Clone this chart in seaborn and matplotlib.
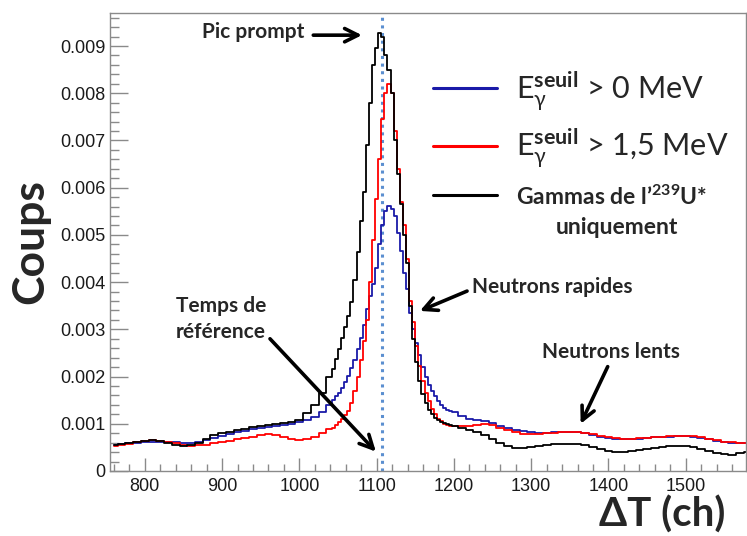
import numpy as np
import seaborn as sns
import matplotlib
matplotlib.use('Agg')
import matplotlib.pyplot as plt
from matplotlib.ticker import MultipleLocator, FuncFormatter

# bin centres (ch): coarse before/after the prompt peak, fine around it
channels = np.concatenate([np.arange(760, 1031, 10),
                           np.arange(1040, 1197, 4),
                           np.arange(1200, 1581, 10)])

# E_gamma seuil > 0 MeV (blue)
coups_0mev = [0.00055, 0.00057, 0.00059, 0.00060, 0.00061, 0.00062, 0.00062, 0.00062, 0.00061, 0.00060,
              0.00060, 0.00062, 0.00066, 0.00070, 0.00074, 0.00078, 0.00082, 0.00085, 0.00088, 0.00091,
              0.00094, 0.00096, 0.00098, 0.00100, 0.00103, 0.00108, 0.00114, 0.00124,
              0.00140, 0.00150, 0.00158, 0.00166, 0.00176, 0.00188, 0.00202, 0.00218, 0.00236, 0.00258,
              0.00282, 0.00310, 0.00342, 0.00370, 0.00395, 0.00430, 0.00480, 0.00520, 0.00550, 0.00562,
              0.00555, 0.00540, 0.00505, 0.00465, 0.00420, 0.00385, 0.00335, 0.00300, 0.00272, 0.00245,
              0.00220, 0.00198, 0.00183, 0.00170, 0.00158, 0.00148, 0.00140, 0.00134, 0.00129, 0.00126,
              0.00124, 0.00116, 0.00110, 0.00107, 0.00105, 0.00101, 0.00096, 0.00091, 0.00087, 0.00084,
              0.00082, 0.00081, 0.00081, 0.00082, 0.00083, 0.00083, 0.00083, 0.00081, 0.00077, 0.00073,
              0.00070, 0.00068, 0.00067, 0.00067, 0.00068, 0.00069, 0.00071, 0.00072, 0.00073, 0.00074,
              0.00074, 0.00073, 0.00070, 0.00067, 0.00064, 0.00062, 0.00060, 0.00060, 0.00059]

# E_gamma seuil > 1,5 MeV (red)
coups_15mev = [0.00052, 0.00055, 0.00058, 0.00061, 0.00063, 0.00065, 0.00064, 0.00062, 0.00059, 0.00056,
               0.00053, 0.00054, 0.00056, 0.00059, 0.00061, 0.00064, 0.00067, 0.00070, 0.00073, 0.00076,
               0.00079, 0.00076, 0.00072, 0.00068, 0.00066, 0.00068, 0.00072, 0.00080,
               0.00088, 0.00092, 0.00097, 0.00103, 0.00110, 0.00118, 0.00128, 0.00145, 0.00170, 0.00200,
               0.00235, 0.00275, 0.00320, 0.00400, 0.00490, 0.00576, 0.00660, 0.00745, 0.00800, 0.00819,
               0.00800, 0.00720, 0.00640, 0.00570, 0.00520, 0.00450, 0.00360, 0.00315, 0.00265, 0.00222,
               0.00190, 0.00165, 0.00148, 0.00132, 0.00120, 0.00111, 0.00105, 0.00100, 0.00098, 0.00096,
               0.00096, 0.00096, 0.00096, 0.00097, 0.00099, 0.00097, 0.00091, 0.00086, 0.00082, 0.00079,
               0.00078, 0.00079, 0.00080, 0.00081, 0.00082, 0.00083, 0.00083, 0.00081, 0.00078, 0.00074,
               0.00071, 0.00069, 0.00068, 0.00068, 0.00069, 0.00070, 0.00071, 0.00073, 0.00074, 0.00075,
               0.00075, 0.00074, 0.00071, 0.00068, 0.00065, 0.00062, 0.00061, 0.00060, 0.00060]

# gammas de l'239U* uniquement (black)
coups_u239 = [0.00055, 0.00057, 0.00060, 0.00061, 0.00063, 0.00065, 0.00063, 0.00060, 0.00055, 0.00053,
              0.00055, 0.00060, 0.00068, 0.00076, 0.00080, 0.00083, 0.00086, 0.00088, 0.00093, 0.00095,
              0.00098, 0.00100, 0.00102, 0.00104, 0.00108, 0.00122, 0.00140, 0.00165,
              0.00200, 0.00216, 0.00238, 0.00259, 0.00282, 0.00305, 0.00328, 0.00358, 0.00405, 0.00463,
              0.00530, 0.00590, 0.00690, 0.00780, 0.00860, 0.00895, 0.00927, 0.00920, 0.00880, 0.00850,
              0.00800, 0.00700, 0.00630, 0.00565, 0.00500, 0.00440, 0.00350, 0.00280, 0.00230, 0.00190,
              0.00162, 0.00143, 0.00130, 0.00120, 0.00113, 0.00108, 0.00104, 0.00101, 0.00099, 0.00097,
              0.00095, 0.00090, 0.00086, 0.00082, 0.00076, 0.00068, 0.00060, 0.00052, 0.00048, 0.00049,
              0.00050, 0.00052, 0.00055, 0.00057, 0.00058, 0.00058, 0.00057, 0.00055, 0.00050, 0.00046,
              0.00042, 0.00040, 0.00041, 0.00042, 0.00044, 0.00046, 0.00048, 0.00050, 0.00052, 0.00053,
              0.00052, 0.00050, 0.00046, 0.00042, 0.00038, 0.00035, 0.00034, 0.00038, 0.00040]

t_reference = 1107

sns.set_theme(style='ticks')
plt.rcParams['font.family'] = ['Liberation Sans', 'DejaVu Sans']
plt.rcParams['mathtext.fontset'] = 'custom'
plt.rcParams['mathtext.rm'] = 'Lato'
plt.rcParams['mathtext.it'] = 'Lato'
plt.rcParams['mathtext.bf'] = 'Lato:bold'
bold_font = ['Lato', 'DejaVu Sans']

fig = plt.figure(figsize=(7.47, 5.36), dpi=100)
ax = fig.add_axes([0.1473, 0.1213, 0.8514, 0.8545])

sns.lineplot(x=channels, y=coups_0mev, drawstyle='steps-mid', color='#1a1aa8', lw=1.3, ax=ax, legend=False)
sns.lineplot(x=channels, y=coups_15mev, drawstyle='steps-mid', color='#ff0000', lw=1.3, ax=ax, legend=False)
sns.lineplot(x=channels, y=coups_u239, drawstyle='steps-mid', color='black', lw=1.3, ax=ax, legend=False)
ax.axvline(t_reference, color='#5b8fd0', ls=(0, (1, 1.5)), lw=2.2, zorder=1)

ax.set_xlim(755, 1578)
ax.set_ylim(0, 0.0097)
ax.xaxis.set_major_locator(MultipleLocator(100))
ax.xaxis.set_minor_locator(MultipleLocator(20))
ax.yaxis.set_major_locator(MultipleLocator(0.001))
ax.yaxis.set_minor_locator(MultipleLocator(0.0002))
ax.yaxis.set_major_formatter(FuncFormatter(lambda v, p: '0' if abs(v) < 1e-9 else f'{v:.3f}'))

tick_col = '#8a8a8a'
ax.tick_params(axis='x', which='major', direction='in', length=9.5, width=1, color=tick_col,
               labelsize=13, pad=5, labelcolor='#1a1a1a')
ax.tick_params(axis='x', which='minor', direction='in', length=5, width=1, color=tick_col)
ax.tick_params(axis='y', which='major', direction='in', length=13, width=1, color=tick_col,
               labelsize=13, pad=3, labelcolor='#1a1a1a')
ax.tick_params(axis='y', which='minor', direction='in', length=6.7, width=1, color=tick_col)
for s in ax.spines.values():
    s.set_visible(True)
    s.set_color(tick_col)
    s.set_linewidth(1)

ax.set_ylabel('Coups', fontsize=32, fontweight='bold', family=bold_font)
ax.yaxis.set_label_coords(-0.094, 0.50)
ax.set_xlabel('ΔT (ch)', fontsize=29, fontweight='bold', family=bold_font, ha='right', va='baseline')
ax.xaxis.set_label_coords(0.967, -0.122)

# legend
lines = ax.get_lines()[:3]
labels = [r'$\mathrm{E}_{\gamma}^{\mathbf{seuil}}$ > 0 MeV',
          r'$\mathrm{E}_{\gamma}^{\mathbf{seuil}}$ > 1,5 MeV',
          r'Gammas de l’$^{\mathbf{239}}$U*']
leg = ax.legend(lines, labels, loc='upper left', bbox_to_anchor=(0.508, 0.878), frameon=False,
                prop={'family': bold_font, 'size': 22}, handlelength=2.1, handletextpad=0.6,
                labelspacing=0.45, borderpad=0, borderaxespad=0)
for h in leg.get_lines():
    h.set_linewidth(2.2)
t3 = leg.get_texts()[2]
t3.set_fontsize(16.5)
t3.set_fontweight('bold')
ax.text(0.797, 0.531, 'uniquement', transform=ax.transAxes, ha='center', va='center',
        fontsize=16.5, fontweight='bold', family=bold_font)

# annotations
arrow = dict(arrowstyle='->', lw=2.6, color='black', mutation_scale=24, shrinkA=0, shrinkB=0)
txt = dict(fontsize=15, fontweight='bold', family=bold_font, ha='left', va='center')
ax.text(874, 0.00929, 'Pic prompt', **txt)
ax.annotate('', xy=(1081, 0.00923), xytext=(1018, 0.00923), arrowprops=arrow)
ax.text(840, 0.00322, 'Temps de\nréférence', linespacing=1.35, **txt)
ax.annotate('', xy=(1099, 0.00041), xytext=(962, 0.0028), arrowprops=arrow)
ax.text(1223, 0.0039, 'Neutrons rapides', **txt)
ax.annotate('', xy=(1156, 0.00339), xytext=(1217, 0.00381), arrowprops=arrow)
ax.text(1314, 0.00252, 'Neutrons lents', **txt)
ax.annotate('', xy=(1364, 0.0010), xytext=(1399, 0.00221), arrowprops=arrow)

fig.savefig('out.png', dpi=100)
